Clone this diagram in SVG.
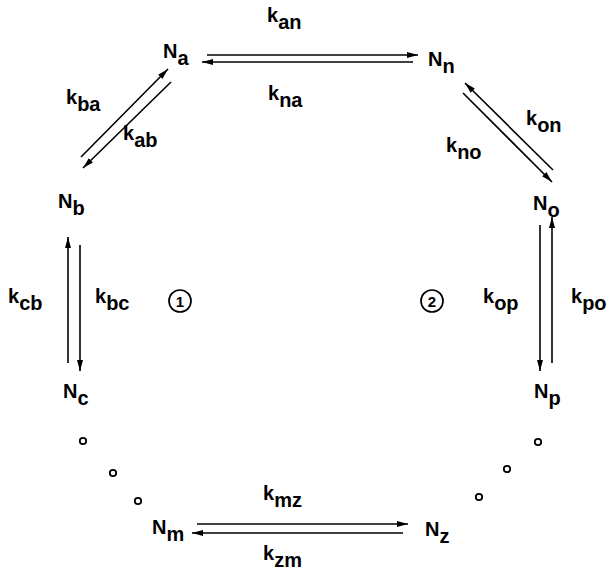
<svg xmlns="http://www.w3.org/2000/svg" width="611" height="575" viewBox="0 0 611 575">
<style>
text{font-family:"Liberation Sans",Arial,sans-serif;font-size:20px;font-weight:bold;fill:#000}
.c{font-size:15px;text-anchor:middle}
line{stroke:#000;stroke-width:1.6}
.dot{fill:none;stroke:#000;stroke-width:1.8}
.circ{fill:none;stroke:#000;stroke-width:1.7}
</style>
<defs>
<marker id="ah" markerUnits="userSpaceOnUse" markerWidth="12" markerHeight="8" refX="11" refY="3.5" orient="auto">
<path d="M0,0.5 L11,3.5 L0,6.5 z" fill="#000"/>
</marker>
</defs>
<g id="connectors">
<line x1="207" y1="55" x2="418" y2="55" marker-end="url(#ah)"/>
<line x1="413" y1="62" x2="202" y2="62" marker-end="url(#ah)"/>
<line x1="81" y1="157" x2="168" y2="69" marker-end="url(#ah)"/>
<line x1="171" y1="82" x2="83" y2="168" marker-end="url(#ah)"/>
<line x1="553" y1="170" x2="465" y2="83" marker-end="url(#ah)"/>
<line x1="463" y1="93" x2="552" y2="182" marker-end="url(#ah)"/>
<line x1="68" y1="363" x2="68" y2="237" marker-end="url(#ah)"/>
<line x1="80" y1="245" x2="80" y2="371" marker-end="url(#ah)"/>
<line x1="540" y1="225" x2="540" y2="371" marker-end="url(#ah)"/>
<line x1="552" y1="363" x2="552" y2="217" marker-end="url(#ah)"/>
<line x1="197" y1="524" x2="408" y2="524" marker-end="url(#ah)"/>
<line x1="403" y1="533" x2="192" y2="533" marker-end="url(#ah)"/>
</g>
<g id="rates">
<text x="267" y="22">k<tspan dy="7">an</tspan></text>
<text x="268" y="100">k<tspan dy="7">na</tspan></text>
<text x="66" y="104">k<tspan dy="7">ba</tspan></text>
<text x="123" y="140">k<tspan dy="7">ab</tspan></text>
<text x="526" y="125">k<tspan dy="7">on</tspan></text>
<text x="446" y="152">k<tspan dy="7">no</tspan></text>
<text x="8" y="303">k<tspan dy="7">cb</tspan></text>
<text x="95" y="303">k<tspan dy="7">bc</tspan></text>
<text x="483" y="303">k<tspan dy="7">op</tspan></text>
<text x="571" y="303">k<tspan dy="7">po</tspan></text>
<text x="263" y="500">k<tspan dy="7">mz</tspan></text>
<text x="263" y="560">k<tspan dy="7">zm</tspan></text>
</g>
<g id="node-a"><text x="163" y="58">N<tspan dy="7">a</tspan></text></g>
<g id="node-n"><text x="428" y="66">N<tspan dy="7">n</tspan></text></g>
<g id="node-b"><text x="58" y="208">N<tspan dy="7">b</tspan></text></g>
<g id="node-o"><text x="533" y="210">N<tspan dy="7">o</tspan></text></g>
<g id="node-c"><text x="63" y="398">N<tspan dy="7">c</tspan></text></g>
<g id="node-p"><text x="534" y="398">N<tspan dy="7">p</tspan></text></g>
<g id="node-m"><text x="152" y="534">N<tspan dy="7">m</tspan></text></g>
<g id="node-z"><text x="425" y="536">N<tspan dy="7">z</tspan></text></g>
<g id="cycle-1"><circle class="circ" cx="180" cy="301" r="11"/><text class="c" x="180" y="306.5">1</text></g>
<g id="cycle-2"><circle class="circ" cx="432" cy="301" r="11"/><text class="c" x="432" y="306.5">2</text></g>
<g id="ellipsis">
<circle class="dot" cx="83" cy="441" r="3.2"/>
<circle class="dot" cx="113" cy="473" r="3.2"/>
<circle class="dot" cx="138" cy="501" r="3.2"/>
<circle class="dot" cx="538" cy="442" r="3.2"/>
<circle class="dot" cx="507" cy="469" r="3.2"/>
<circle class="dot" cx="479" cy="497" r="3.2"/>
</g>
</svg>
